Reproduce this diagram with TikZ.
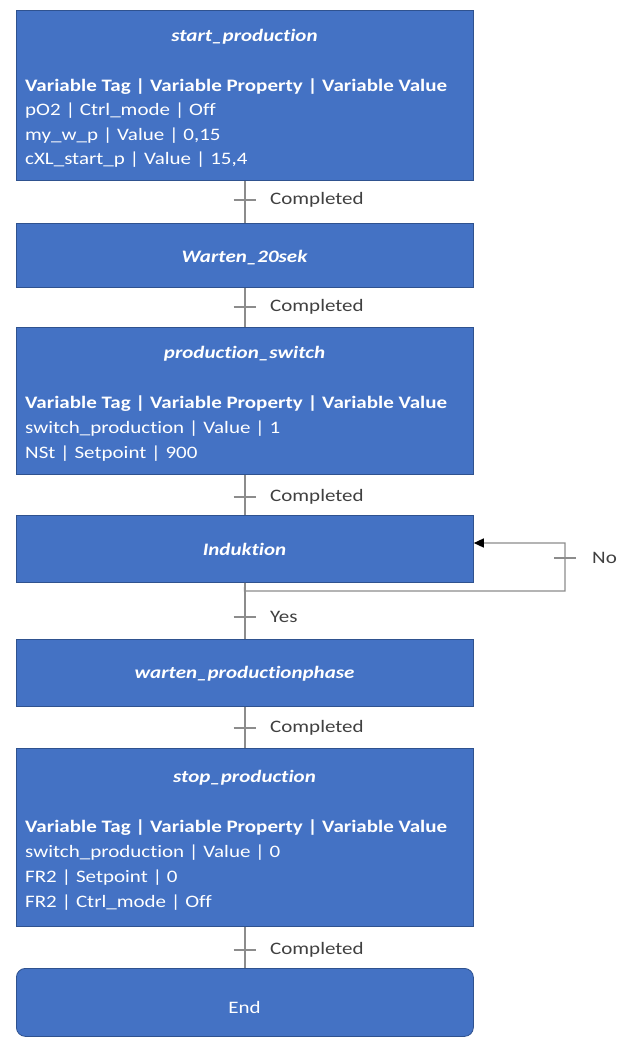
\documentclass[tikz,border=0pt]{standalone}
\usepackage{fontspec}
\setmainfont{Carlito}[FakeStretch=1.2,Ligatures=CommonOff]
\usetikzlibrary{arrows.meta}
\definecolor{boxblue}{HTML}{4472C4}
\definecolor{boxedge}{HTML}{2F528F}
\definecolor{linegray}{HTML}{8C8C8C}
\definecolor{labelgray}{HTML}{404040}
\begin{document}
\begin{tikzpicture}[x=1pt,y=-1pt,
  box/.style={draw=boxedge,fill=boxblue,line width=0.8pt,anchor=north west,inner sep=0pt,minimum width=457pt},
  ttl/.style={text=white,font=\fontsize{17.5}{21}\selectfont\bfseries\itshape,anchor=base,inner sep=0pt},
  hdr/.style={text=white,font=\fontsize{17.5}{21}\selectfont\bfseries,anchor=base west,inner sep=0pt},
  row/.style={text=white,font=\fontsize{17.5}{21}\selectfont,anchor=base west,inner sep=0pt},
  conn/.style={draw=linegray,line width=1.4pt},
  tickmark/.style={draw=linegray,line width=1.2pt},
  lbl/.style={text=labelgray,font=\fontsize{17.5}{21}\selectfont,anchor=west,inner sep=0pt}
]
\useasboundingbox (0,0) rectangle (618,1039);

% boxes
\node[box,minimum height=170pt] (sp) at (16,10) {};
\node[box,minimum height=64pt] (w20) at (16,223) {};
\node[box,minimum height=147pt] (ps) at (16,327) {};
\node[box,minimum height=67pt] (ind) at (16,515) {};
\node[box,minimum height=67pt] (wp) at (16,639) {};
\node[box,minimum height=178pt] (stp) at (16,748) {};
\node[box,minimum height=68pt,rounded corners=9pt] (en) at (16,968) {};

% texts: start_production
\node[ttl] (spt) at (244.5,41) {start\_production};
\node[hdr] (sph) at (25,91) {Variable Tag | Variable Property | Variable Value};
\node[row] (sp1) at (25,115.5) {pO2 | Ctrl\_mode | Off};
\node[row] (sp2) at (25,140) {my\_w\_p | Value | 0,15};
\node[row] (sp3) at (25,164.5) {cXL\_start\_p | Value | 15,4};

\node[ttl] (w20t) at (244.5,262) {Warten\_20sek};

\node[ttl] (pst) at (244.5,358) {production\_switch};
\node[hdr] (psh) at (25,408) {Variable Tag | Variable Property | Variable Value};
\node[row] (ps1) at (25,433) {switch\_production | Value | 1};
\node[row] (ps2) at (25,458) {NSt | Setpoint | 900};

\node[ttl] (indt) at (244.5,555) {Induktion};

\node[ttl] (wpt) at (244.5,678) {warten\_productionphase};

\node[ttl] (stpt) at (244.5,782) {stop\_production};
\node[hdr] (stph) at (25,832) {Variable Tag | Variable Property | Variable Value};
\node[row] (stp1) at (25,857) {switch\_production | Value | 0};
\node[row] (stp2) at (25,882) {FR2 | Setpoint | 0};
\node[row] (stp3) at (25,907) {FR2 | Ctrl\_mode | Off};

\node[row,anchor=base] (ent) at (244.5,1013) {End};

% connectors
\draw[conn] (sp.south) -- (w20.north);
\draw[conn] (w20.south) -- (ps.north);
\draw[conn] (ps.south) -- (ind.north);
\draw[conn] (ind.south) -- (wp.north);
\draw[conn] (wp.south) -- (stp.north);
\draw[conn] (stp.south) -- (en.north);

\coordinate (j) at (244.5,591);
\coordinate (lr) at (565,591);
\coordinate (ur) at (565,543);
\draw[conn,-{Triangle[color=black,length=10pt,width=9pt]}] (ind.south) -- (j) -- (lr) -- (ur) -- (ind.east |- ur);

% ticks and labels
\foreach \n/\y/\t in {a/200/Completed,b/307/Completed,c/497/Completed,d/617/Yes,e/728/Completed,f/950/Completed}{
  \coordinate (tk\n) at (244.5,\y);
  \draw[tickmark] ([xshift=-11pt]tk\n) -- ([xshift=11pt]tk\n);
  \node[lbl] (lb\n) at (270,\y) {\t};
}
\coordinate (tkg) at (565,558);
\draw[tickmark] ([xshift=-11pt]tkg) -- ([xshift=11pt]tkg);
\node[lbl] (lbg) at (592,558) {No};
\end{tikzpicture}
\end{document}
